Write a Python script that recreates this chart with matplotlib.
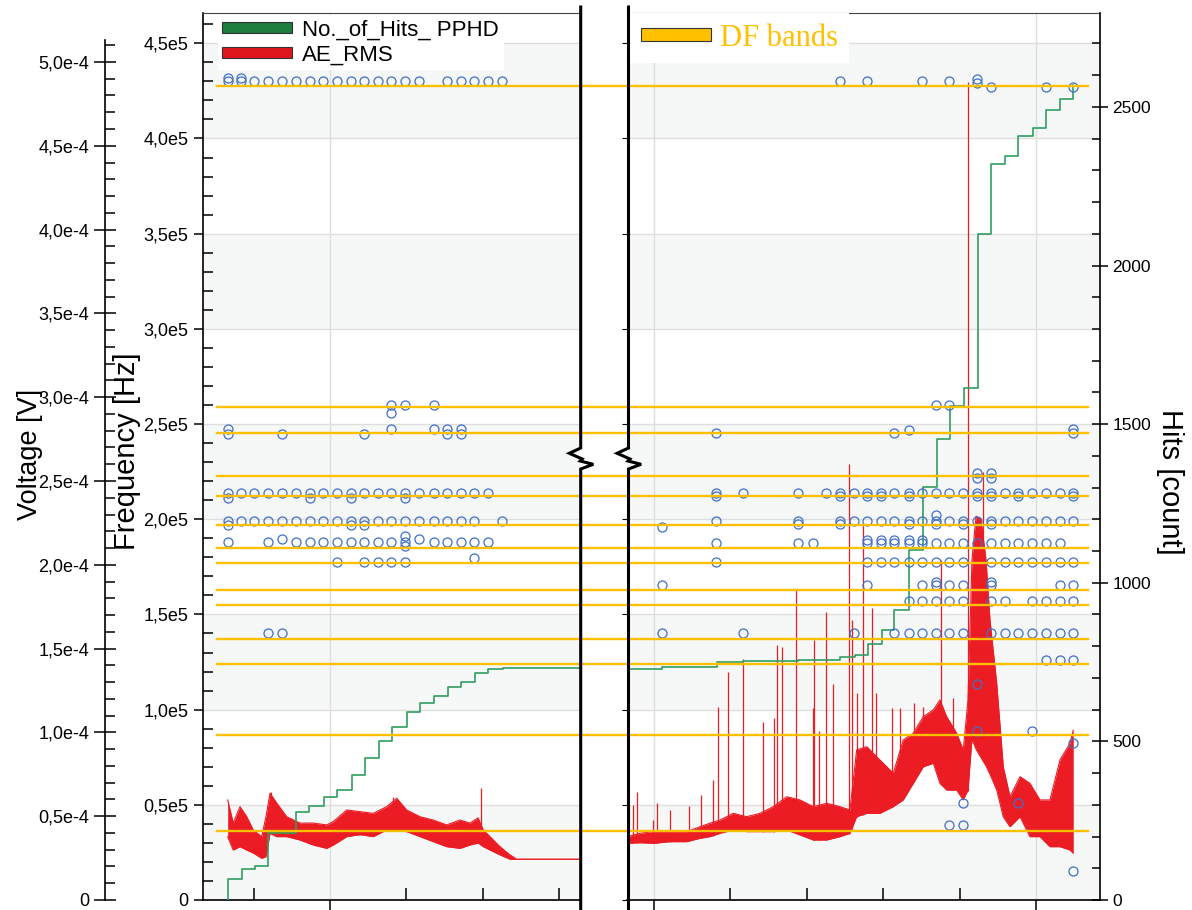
import numpy as np
import matplotlib.pyplot as plt
from matplotlib.lines import Line2D
from matplotlib.patches import Patch
from matplotlib.ticker import FuncFormatter, MultipleLocator

plt.rcParams['font.family'] = ['Liberation Sans', 'DejaVu Sans']

# ---------------- values ----------------
# DF bands [Hz]
df_bands = [4.275e5, 2.589e5, 2.453e5, 2.227e5, 2.122e5, 1.972e5, 1.849e5,
            1.770e5, 1.628e5, 1.547e5, 1.373e5, 1.242e5, 0.867e5, 0.362e5]

# time of each hit column [min], before and after the break
left_cols = [36.65, 38.35, 40.12, 41.92, 43.78, 45.55, 47.38, 49.12, 50.88, 52.71,
             54.45, 56.26, 58.01, 59.88, 61.61, 63.61, 65.27, 67.11, 68.87, 70.72, 72.47]
right_cols = [201.01, 208.12, 211.69, 218.89, 220.77, 222.51, 224.35, 226.18, 227.84,
              229.71, 231.45, 233.34, 235.08, 236.91, 238.65, 240.48, 242.32, 244.07,
              245.94, 247.68, 249.51, 251.27, 253.14, 254.88]

# peak frequency of hits: (frequency [Hz], column indices)
left_peaks = [
    (4.300e5, [0, 1, 2, 3, 4, 5, 6, 7, 8, 9, 10, 11, 12, 13, 14, 16, 17, 18, 19, 20]),
    (4.318e5, [0, 1]),
    (2.600e5, [12, 13, 15]),
    (2.556e5, [12]),
    (2.474e5, [0, 12, 15, 16, 17]),
    (2.450e5, [0, 4, 10, 16, 17]),
    (2.136e5, [0, 1, 2, 3, 4, 5, 6, 7, 8, 9, 10, 11, 12, 13, 14, 15, 16, 17, 18, 19]),
    (2.110e5, [0, 6, 9, 13]),
    (1.992e5, [0, 1, 2, 3, 4, 5, 6, 7, 8, 9, 10, 11, 12, 13, 14, 15, 16, 17, 18, 20]),
    (1.970e5, [0, 9, 10]),
    (1.881e5, [0, 3, 5, 6, 7, 8, 9, 10, 11, 12, 13, 15, 16, 17, 18, 19]),
    (1.896e5, [4, 14]),
    (1.910e5, [13]),
    (1.860e5, [13]),
    (1.777e5, [8, 10, 11, 12, 13]),
    (1.798e5, [18]),
    (1.400e5, [3, 4]),
]
right_peaks = [
    (4.300e5, [6, 8, 12, 14]),
    (4.290e5, [16]),
    (4.310e5, [16]),
    (4.270e5, [17, 21, 23]),
    (2.600e5, [13, 14]),
    (2.451e5, [1, 10, 23]),
    (2.468e5, [11]),
    (2.476e5, [23]),
    (2.241e5, [16, 17]),
    (2.214e5, [16, 17]),
    (2.136e5, [1, 2, 3, 5, 6, 7, 8, 9, 10, 11, 12, 13, 14, 15, 16, 17, 18, 19, 20, 21, 22, 23]),
    (2.120e5, [1, 6, 8, 9, 11, 16, 17, 19, 23]),
    (2.020e5, [13]),
    (1.992e5, [1, 3, 6, 7, 8, 9, 10, 11, 12, 13, 14, 15, 16, 17, 18, 19, 20, 21, 22, 23]),
    (1.975e5, [3, 6, 11, 13, 15, 17]),
    (1.960e5, [0]),
    (1.890e5, [8, 9, 10, 11, 12]),
    (1.877e5, [1, 3, 4, 8, 9, 10, 11, 12, 13, 14, 15, 16, 17, 18, 19, 20, 21, 22]),
    (1.777e5, [1, 8, 9, 10, 11, 12, 13, 14, 15, 17, 18, 19, 20, 21, 22, 23]),
    (1.670e5, [13, 17]),
    (1.654e5, [0, 8, 12, 13, 14, 15, 17, 22, 23]),
    (1.570e5, [11, 12, 13, 14, 15, 17, 18, 20, 21, 22, 23]),
    (1.400e5, [0, 2, 7, 10, 11, 12, 13, 14, 15, 17, 18, 19, 20, 21, 22, 23]),
    (1.260e5, [21, 22, 23]),
    (1.133e5, [16]),
    (0.888e5, [16, 20]),
    (0.823e5, [23]),
    (0.511e5, [15, 19]),
    (0.394e5, [14, 15]),
    (0.152e5, [23]),
]

# cumulative number of hits (PPHD)
left_hits_t = [36.65, 36.65, 38.44, 40.18, 41.92, 45.55, 47.25, 49.21, 50.92, 52.84, 54.58,
               56.41, 58.12, 60.04, 61.78, 63.65, 65.41, 67.15, 68.98, 70.72, 72.60, 82.72]
left_hits = [0, 65, 98, 107, 211, 276, 297, 326, 347, 394, 449,
             501, 544, 592, 622, 643, 672, 688, 715, 727, 730, 730]
right_hits_t = [196.47, 201.00, 208.20, 211.65, 218.85, 224.35, 226.31, 228.01, 229.80,
                231.45, 233.42, 235.17, 237.00, 238.74, 240.61, 242.37, 244.11, 245.94,
                247.68, 249.57, 251.27, 253.14, 254.88]
right_hits = [729, 734, 749, 753, 757, 767, 771, 806, 851, 914, 1103, 1303, 1452, 1557,
              1613, 2100, 2319, 2346, 2409, 2433, 2491, 2524, 2569]

# AE_RMS envelope [uV]
left_rms_t = [36.61, 37.34, 38.22, 39.10, 39.96, 41.06, 41.62, 42.15, 43.02, 44.33, 46.07,
              47.81, 49.57, 50.43, 52.19, 53.93, 55.67, 57.42, 58.73, 60.04, 61.78, 63.52,
              65.27, 67.02, 68.32, 69.37, 70.07, 70.94, 72.25, 73.56, 74.44, 82.72]
left_rms_hi = [59.7, 45.9, 55.7, 49.7, 41.8, 37.8, 49.7, 63.7, 57.9, 49.7, 45.9,
               45.9, 44.8, 46.8, 53.7, 52.7, 51.7, 55.7, 60.7, 53.7, 49.7, 47.7,
               44.8, 47.7, 45.9, 49.0, 41.8, 37.8, 31.8, 26.9, 24.3, 24.3]
left_rms_lo = [37.8, 29.8, 31.8, 29.8, 28.0, 24.9, 25.8, 39.8, 37.8, 37.8, 35.8,
               32.8, 30.8, 32.8, 37.8, 39.0, 37.8, 41.8, 41.8, 40.8, 37.8, 34.8,
               31.8, 30.8, 32.8, 34.0, 31.8, 29.8, 26.9, 24.3, 24.3, 24.3]
left_spike_t = [42.28, 58.29, 69.76]
left_spike_top = [64.6, 61.6, 66.6]

right_rms_t = [196.51, 198.17, 199.91, 202.09, 204.28, 206.02, 207.33, 208.64, 210.38,
               212.13, 213.87, 215.62, 217.37, 219.11, 220.85, 222.60, 224.35, 225.65,
               226.53, 227.84, 229.58, 231.32, 232.63, 233.94, 235.25, 236.56, 237.43,
               238.31, 239.62, 240.48, 241.10, 241.62, 242.15, 242.80, 243.46, 243.98,
               244.86, 245.72, 246.60, 247.91, 249.21, 250.52, 251.83, 253.14, 254.45, 254.88]
right_rms_hi = [37.8, 39.8, 40.8, 40.8, 40.8, 43.7, 45.8, 47.7, 51.7, 49.7, 51.7, 55.7,
                61.6, 59.7, 55.7, 57.7, 55.7, 53.7, 89.5, 91.5, 83.5, 75.6, 95.5, 99.5,
                109.4, 113.4, 119.3, 109.4, 99.5, 89.5, 119.3, 203.0, 229.0, 227.0, 203.0,
                167.0, 129.3, 79.5, 61.6, 73.6, 69.6, 59.7, 59.7, 83.5, 93.5, 101.4]
right_rms_lo = [33.8, 34.2, 33.8, 34.8, 34.8, 36.8, 37.8, 39.8, 41.8, 40.8, 40.8, 40.8,
                41.8, 38.8, 35.8, 35.8, 37.8, 39.8, 49.7, 51.7, 51.7, 55.7, 59.7, 69.6,
                79.5, 81.6, 69.6, 65.6, 65.6, 59.7, 65.6, 96.0, 90.0, 85.0, 80.0,
                75.0, 65.6, 49.7, 43.7, 49.7, 37.8, 37.8, 31.8, 31.8, 29.8, 27.9]
right_spike_t = [197.29, 197.81, 199.91, 200.43, 202.09, 204.62, 206.15, 207.76, 208.34,
                 209.73, 211.69, 214.31, 215.71, 216.06, 216.79, 218.59, 220.85, 220.98,
                 221.64, 222.47, 223.47, 225.56, 225.88, 226.53, 227.32, 228.57, 229.06,
                 231.11, 232.20, 234.03, 235.25, 237.53, 239.18, 241.06, 243.10]
right_spike_top = [56.7, 64.6, 47.7, 57.7, 53.7, 56.1, 62.7, 71.6, 115.0,
                   136.0, 143.6, 106.0, 108.6, 152.0, 151.0, 185.0, 114.6, 155.0,
                   101.0, 172.0, 129.0, 260.0, 167.0, 123.5, 224.0, 174.0, 123.5,
                   114.6, 114.6, 117.5, 115.0, 203.0, 120.5, 488.0, 255.5]

# ---------------- layout / style ----------------
W, H = 1192, 910
F_TOP = 4.659e5      # frequency at panel top
V_TOP = 5.292e-4     # voltage at panel top
HITS_TOP = 2796
RED = '#ec1c24'
GREEN = '#2f9e5f'
BLUE = '#3f6fc6'
ORANGE = '#ffc000'
BAND = '#f6f7f7'
GRID = '#dedede'


def rect(x0, x1, y0, y1):
    return [x0 / W, 1 - y1 / H, (x1 - x0) / W, (y1 - y0) / H]


def freq_fmt(v, _):
    return '0' if abs(v) < 1 else f'{v / 1e5:.1f}e5'.replace('.', ',')


def volt_fmt(v, _):
    return '0' if abs(v) < 1e-12 else f'{v / 1e-4:.1f}e-4'.replace('.', ',')


fig = plt.figure(figsize=(W / 100, H / 100), dpi=100)


def make_panel(x0, x1, xlim, major, minor, first):
    ax = fig.add_axes(rect(x0, x1, 13, 900))
    ax.set_xlim(*xlim)
    ax.set_ylim(0, F_TOP)
    for lo in np.arange(0, 4.5e5, 1e5):
        ax.axhspan(lo, lo + 0.5e5, color=BAND, lw=0, zorder=0.1)
    ax.set_axisbelow(True)
    ax.set_xticks(major)
    ax.set_xticks(minor, minor=True)
    ax.set_yticks(np.arange(0, 4.51e5, 0.5e5))
    ax.grid(True, which='major', color=GRID, lw=1)
    ax.tick_params(axis='x', which='major', direction='out', length=7, width=1.1,
                   labelbottom=False)
    ax.tick_params(axis='x', which='minor', direction='in', length=8.5, width=1.1)
    for s in ('left', 'right'):
        ax.spines[s].set_visible(False)
    ax.spines['top'].set_color('#444444')
    ax.spines['bottom'].set_linewidth(1.2)
    if first:
        ax.spines['left'].set_visible(True)
        ax.spines['left'].set_linewidth(1.2)
        ax.yaxis.set_minor_locator(MultipleLocator(0.1e5))
        ax.yaxis.set_major_formatter(FuncFormatter(freq_fmt))
        ax.tick_params(axis='y', which='major', direction='out', length=6.5, width=1.1,
                       pad=4, labelsize=13)
        ax.tick_params(axis='y', which='minor', direction='in', length=7, width=1.1)
    else:
        ax.tick_params(axis='y', which='both', left=False, labelleft=False)

    axv = ax.twinx()
    axv.set_ylim(0, V_TOP)
    axv.set_axis_off()
    axh = ax.twinx()
    axh.set_ylim(0, HITS_TOP)
    axs = ax.twinx()
    axs.set_ylim(0, F_TOP)
    axs.set_axis_off()
    return ax, axv, axh, axs


axL, axLv, axLh, axLs = make_panel(203, 580, (33.38, 82.72), [50], [40, 60, 70, 80], True)
axR, axRv, axRh, axRs = make_panel(627, 1100, (196.47, 258.38), [200, 250],
                                   [210, 220, 230, 240], False)
axLh.set_axis_off()

# hits axis on the right
for s in ('left', 'top', 'bottom'):
    axRh.spines[s].set_visible(False)
axRh.spines['right'].set_linewidth(1.2)
axRh.set_yticks(np.arange(0, 2501, 500))
axRh.yaxis.set_minor_locator(MultipleLocator(100))
axRh.tick_params(axis='y', which='major', direction='inout', length=12, width=1.1,
                 pad=3, labelsize=12.5)
axRh.tick_params(axis='y', which='minor', direction='in', length=6, width=1.1)

# voltage axis on the far left
axV = fig.add_axes(rect(105, 106, 40, 900))
axV.set_ylim(0, 5.131e-4)
axV.patch.set_alpha(0)
for s in ('right', 'top', 'bottom'):
    axV.spines[s].set_visible(False)
axV.spines['left'].set_linewidth(1.2)
axV.set_xticks([])
axV.set_yticks(np.arange(0, 5.01e-4, 0.5e-4))
axV.yaxis.set_minor_locator(MultipleLocator(0.1e-4))
axV.yaxis.set_major_formatter(FuncFormatter(volt_fmt))
axV.tick_params(axis='y', which='major', direction='inout', length=16, width=1.1,
                pad=3.5, labelsize=13)
axV.tick_params(axis='y', which='minor', direction='in', length=7, width=1.1)

# AE_RMS
for axv, t, hi, lo, st, stop in [
        (axLv, left_rms_t, left_rms_hi, left_rms_lo, left_spike_t, left_spike_top),
        (axRv, right_rms_t, right_rms_hi, right_rms_lo, right_spike_t, right_spike_top)]:
    t = np.array(t)
    hi = np.array(hi) * 1e-6
    lo = np.array(lo) * 1e-6
    axv.fill_between(t, lo, hi, color=RED, lw=0)
    axv.plot(t, hi, color=RED, lw=0.8)
    axv.plot(t, lo, color=RED, lw=0.8)
    base = np.interp(st, t, lo)
    axv.vlines(st, base, np.array(stop) * 1e-6, color=RED, lw=0.9)

# hits
axLh.plot(left_hits_t, left_hits, drawstyle='steps-post', color=GREEN, lw=1.2)
axRh.plot(right_hits_t, right_hits, drawstyle='steps-post', color=GREEN, lw=1.2)

# peak frequencies
for axs, cols, rows in [(axLs, left_cols, left_peaks), (axRs, right_cols, right_peaks)]:
    for f, idx in rows:
        axs.plot([cols[i] for i in idx], [f] * len(idx), 'o', ms=6.5, mfc='none',
                 mec=BLUE, mew=0.9)

# DF bands across both panels
axD = fig.add_axes(rect(203, 1100, 13, 900))
axD.set_ylim(0, F_TOP)
axD.set_axis_off()
for f in df_bands:
    axD.axhline(f, xmin=(217 - 203) / 897, xmax=(1088 - 203) / 897, color=ORANGE, lw=1.7)

# broken-axis separators
zig = [(0, 7), (0, 448), (-11.4, 453.3), (1.5, 459), (-0.5, 461), (12.6, 464.3), (0, 469), (0, 910)]
for x0 in (580.7, 628.5):
    xs = [(x0 + dx) / W for dx, _ in zig]
    ys = [1 - y / H for _, y in zig]
    fig.add_artist(Line2D(xs, ys, color='black', lw=2.2, solid_joinstyle='miter'))

# legends
leg1 = axD.legend(handles=[Patch(fc='#1f7d3f', ec='#333333', lw=0.8, label='No._of_Hits_ PPHD'),
                           Patch(fc='#e0161e', ec='#333333', lw=0.8, label='AE_RMS')],
                  loc='upper left', bbox_to_anchor=(218 / W, 1 - 15 / H),
                  bbox_transform=fig.transFigure, fontsize=16, frameon=True, fancybox=False,
                  facecolor='white', edgecolor='none', framealpha=1, borderpad=0.2,
                  borderaxespad=0, handlelength=3.15, handleheight=0.36, handletextpad=0.45,
                  labelspacing=0.18)
axD.add_artist(leg1)
axD.legend(handles=[Patch(fc=ORANGE, ec='#333333', lw=0.8, label='DF bands')],
           loc='upper left', bbox_to_anchor=(630 / W, 1 - 13 / H),
           bbox_transform=fig.transFigure, frameon=True, fancybox=False,
           facecolor='white', edgecolor='none', framealpha=1, borderpad=0.35,
           borderaxespad=0, handlelength=2.29, handleheight=0.3, handletextpad=0.3,
           labelcolor=ORANGE, prop={'family': 'Liberation Serif', 'size': 22})

# axis titles
fig.text(30 / W, 1 - 454 / H, 'Voltage [V]', rotation=90, ha='center', va='center', fontsize=19.5)
fig.text(127 / W, 1 - 451 / H, 'Frequency [Hz]', rotation=90, ha='center', va='center',
         fontsize=21)
fig.text(1170 / W, 1 - 482 / H, 'Hits [count]', rotation=270, ha='center', va='center',
         fontsize=21)

fig.savefig('out.png', dpi=100)
